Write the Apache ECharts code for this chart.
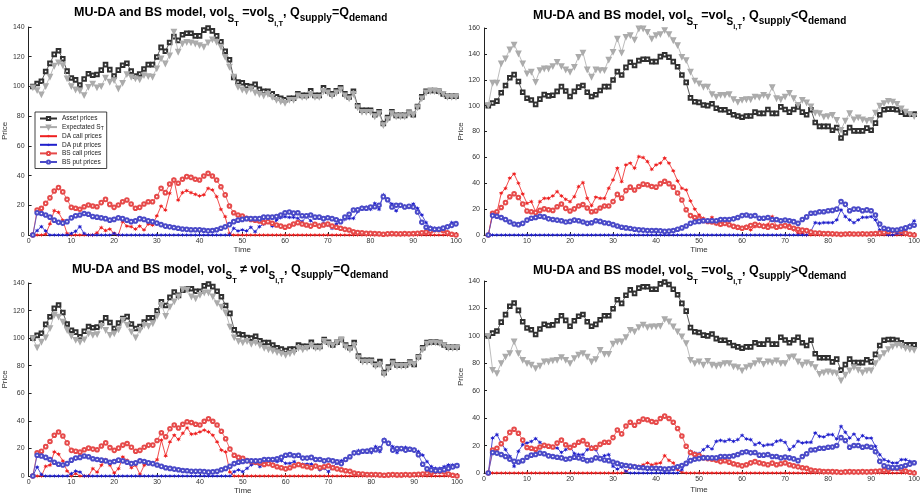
<!DOCTYPE html>
<html><head><meta charset="utf-8">
<script src="https://cdn.jsdelivr.net/npm/echarts@6/dist/echarts.min.js"></script>
<style>html,body{margin:0;padding:0;background:#fff}#c{width:923px;height:497px}</style>
</head><body><div id="c"></div>
<script>
// ---------------- data (time steps 1..100) ----------------
const time = Array.from({length:100}, (_, i) => i + 1);

const asset = [100,102,103.5,110,115.5,121.6,124,118.6,110.3,105.7,
104.4,101,105,108.5,107.5,108,111,114.7,111.3,107,
111,114.3,115.6,110.3,107,108.4,111.7,114.7,114.7,119.8,
126.3,123.7,129.6,133.5,131,134.8,135.8,135.8,134,134,
137.9,139.3,137.4,134,130,123.7,118,106,103,102.5,
100.5,100,101.4,98,96.8,96.8,95,93,92,91,
92,92,95,94,94,97,94,94,99,97,
95,97,99,95,93,96.8,87,84,84,84,
81,83,75,79,83,80.5,80.5,80.5,82.6,81,
86.5,93,96.8,97.3,97.3,96.8,95,93.4,93.4,93.4];

const bsCall = [0,16.8,18,21.3,25,29.6,31.9,29,24,18.6,
18,17.3,19,20.2,19.5,19,21.8,24,20.6,18.6,
20.2,22.4,23.6,20.9,18,18.6,20.9,22.4,22.4,25.8,
31.4,28.5,34.3,37,34.8,37.5,39.3,38.8,37.5,37,
39.7,41.5,39.7,37,32.5,27,19.5,15,13.5,12.8,
11.2,10.5,10,9.4,8.3,9,7.9,6.7,6,5.2,
6,7.4,8.3,7.4,6.7,6,7.2,6,6.7,7.4,
6,5.2,4.5,3.8,3.4,2.2,1.6,1.5,1.1,1.1,
1,0.8,0.5,0.8,1,0.8,0.8,1,0.8,1,
1.2,1.5,2,2.5,3.5,3.5,3,1.5,0.5,0];

const bsPut = [0,15,14.5,13.5,12,10,8.5,8,9,11.5,
13,13.5,14.5,14,12.5,12,11.5,11,10,10.5,
11.5,11,10,9,9.5,11,10.5,9.5,9,8,
7,6,5.5,5,4.5,4,3.8,3.5,3.5,3.5,
3.2,2.8,3,3.5,4.5,5.5,7,9,10,10.5,
11,11,11,11,12,12,12,12.5,13.5,15,
15.5,14.7,15,13,13,13.5,12,12,11,11.6,
11,10.3,9,12,14,16.8,17,18,18,18.8,
19,20,25.8,23.7,18.8,20,20,18.8,19.4,18.8,
15.5,8.5,5.2,4.4,3.9,3.9,4.6,5.5,6.5,7.5];

// panel 1 (top-left)
const expTL = [99.4,97.6,94.7,100.3,106.6,114,116.2,114.4,105.5,100.3,
98,97.2,94.2,99.8,102,99.4,100.3,106,103.2,104.3,
98.7,102.5,108.4,106.6,105.5,104.8,107.7,107,106.6,112.2,
119,115.5,121,137,123.4,129,130,129.7,129,127.9,
126.8,129.7,131.7,130.1,126.8,120,113.3,106.6,99.8,98,
97,98.5,96,95,94,95,93,91,90,89,
91,91,94,93,93,95,93,93,97,96,
94,96,98,94,92,95,86,83,83,83,
80,82,74,78,82,80,80,80,82,81,
86,92,96,97,97,96.5,95,93,93,93];
const daCallTL = [0,0,0,0.5,7.5,16.4,15.3,10,1,0,
0,0,0,0,0,1.5,5,3,4,1,
0,9,6,5.6,4,6,3.4,7.4,6.7,12.8,
19.5,16.8,28,37.5,23.5,28.5,29.8,28.5,27.4,26.3,
27,31.4,30.3,25.8,17.3,12.3,1,0,0,0,
0,0,0,0,0,0,0,0,0,0,
0,0,0,0,0,0,0,0,0,0,
0,0,0,0,0,0,0,0,0,0,
0,0,0,0,0,0,0,0,0,0,
0,0,0,0,0,0,0,0,0,0];
const daPutTL = [0,3,5.6,2.7,0,0,0,0,0,1,
2.5,5.6,1,0,0,0,0,0,0,1,
0,0,0,0,0,0,0,0,0,0,
0,0,0,0,0,0,0,0,0,0,
0,0,0,0,0,0,0,4.5,2.7,3.4,
2.7,5.2,2.2,5.6,7.4,9,6,10,11.7,12.3,
11.9,11.9,11.2,9,12.3,9.6,7.4,6.7,7.9,6.7,
4.5,7.4,9.6,10.5,11.2,11.2,15.7,18.6,18.6,17.3,
21.3,17.3,27,24,20.9,16.2,19.5,19.5,18.6,20.9,
18,13.5,8.3,5.2,4.5,4.5,3.4,5.6,8.3,8.3];

// panel 2 (top-right)
const expTR = [100.5,117.8,117.8,132.7,136.6,143.5,147.3,140.4,132.7,125,
126.3,118.5,127.5,128.8,128.8,130.6,133.9,130.6,128,126.3,
130,137.8,141,128,122.4,128,127.5,127.5,135.7,141.6,
151.9,141,153.2,154.5,151.1,159.7,159.7,157.1,151.9,154.5,
155.3,158.4,155.3,150.6,146.8,137.8,135.2,126.3,119.4,117.3,
114.7,114.8,109,107,108.4,108.4,109,105,103,104.5,
105,105,107,106.6,108.4,107,114.3,105.8,105,107,
110,105.8,100.6,104.5,102.5,99.4,94.7,94.2,91.6,92,
93,89,81.3,88.5,94.2,89.5,91,89.5,88.5,89,
94.7,100,102,103.7,103.2,101.4,98,95.5,93.7,92];
const daCallTR = [0,16.8,17.3,32.3,36.1,43.9,47.2,40,31.7,24.5,
25.8,18,25.8,28.4,28.4,30.2,33.5,30.2,27.6,25.8,
29.7,37.4,40.5,28.4,22.7,29.2,28.4,28.4,36.1,42.6,
51.6,41.3,54.2,55.5,51.6,60.6,59.9,56.8,50.8,54.2,
55.5,59.4,55.5,49.5,41.8,36.1,34.8,26.3,20,15.5,
12.9,11,13.7,8.5,7.7,8.5,7.7,6.5,5.2,5.7,
6.5,3.9,6.5,8.5,7.7,8,14.2,6.5,6.5,6,
7.7,3.9,1.3,1.3,0,0,0,0,0,0,
0,0,0,0,0,0,0,0,0,0,
0,0,0,0,0,0,0,0,0,0];
const daPutTR = [0,0,0,0,0,0,0,0,0,0,
0,0,0,0,0,0,0,0,0,0,
0,0,0,0,0,0,0,0,0,0,
0,0,0,0,0,0,0,0,0,0,
0,0,0,0,0,0,0,0,0,0,
0,0,0,0,0,0,0,0,0,0,
0,0,0,0,0,0,0,0,0,0,
0,0,0,0,0,3,9.5,9,9.5,9.5,
9.5,11.6,19.4,14.2,11.6,9.5,11.6,13.7,13.7,14.2,
11.6,3.9,0.8,0,0,1.3,1.3,3.9,7.7,11];

// panel 3 (bottom-left)
const expBL = [100,93.4,97.5,100.7,107.3,117,115.7,112,106,101.7,
98.8,97.5,99.2,103.6,102.4,103,109,106,102.4,103.6,
106.5,113.3,109.7,104.8,100.7,106,109.7,109,110.9,116.2,
124.2,116.2,123,126.7,130.3,135.6,135.2,130.3,129,131.5,
133.2,133.2,130.3,125.5,123,118.7,108.5,100.7,98,97,
98,96,97,95,93,92,91,90,89,88,
89,90,93,92,93,95,93,93,98,96,
95,97,99,94,92,95,86,83,83,83,
80,81,74,78,82,80,80,80,82,81,
86,92,96,97,97,96.5,95,93,93,93];
const daCallBL = [0,0,0,7,7.8,17.5,15.8,11,3.6,0,
1.7,0,0,0,5.3,2.9,7.8,11.9,7.8,2.2,
5.3,13.8,11.4,6,7.8,1.2,7.8,9,8.5,11.9,
26,14.6,24.8,29.6,26.5,31,35,30.3,30.8,32,
33.3,32,29.6,24.8,18.7,17.5,2.9,0,0,0,
0,0,0,0,0,0,0,0,0,0,
0,0,0,0,0,0,0,0,0,0,
0,0,0,0,0,0,0,0,0,0,
0,0,0,0,0,0,0,0,0,0,
0,0,0,0,0,0,0,0,0,0];
const daPutBL = [0,6.5,1,0,0,0,0,0,0,1.7,
3.6,2.9,0,0,0,0,0,0,0,0,
0,0,0,0,0,0,0,0,0,0,
0,0,0,0,0,0,0,0,0,0,
0,0,0,0,0,0,0,3.1,4.4,3.1,
5.6,8,9.2,6.8,9.2,11.1,11.1,10.4,11.1,9.2,
9.2,10.4,8,8.7,8.7,8.7,6.8,4.4,5.6,3.1,
6.8,9.2,11.1,11.6,14.5,16,18.4,17.7,18.9,16.9,
21.3,17.7,26.6,24.2,21.3,16.9,19.3,20.8,20,19.3,
17.7,15.2,10.4,6.8,5.6,5.6,6.8,8,8,8];

// panel 4 (bottom-right)
const expBR = [100.1,75.3,72.9,80.2,85,87.5,96,87.5,82.6,80.2,
79,76.6,78.3,81.4,81.4,82.2,82.6,84.6,82.6,80.2,
83.9,86.3,87.5,85,81.4,83.1,89.9,87,87,94.3,
96,96,99.2,104.5,103.3,106.5,108.2,106.5,107,107,
107.4,112.3,110.6,107,103.3,99.7,94.8,82.6,80.2,81.4,
79,81.9,79,78.3,79,80.2,80.2,77.8,77.3,74.9,
77.3,78.3,80.2,82.2,79.7,81.4,80.7,82.2,80.2,80.2,
84.6,85.1,81.4,79,80.7,79.7,77.3,72.4,73.4,74.1,
73.4,72.9,67.6,71.7,74.9,77.3,75.4,73.4,74.9,74.9,
80.2,84.6,87.5,90.4,92.4,93.6,92.9,91.2,90.4,89.9];
const daCallBR = [0,0,0,0,0,0,0,0,0,0,
0,0,0,0,0,0,0,0,0,0,
0,0,0,0,0,0,0,0,0,0,
0,0,1,3.6,5.3,4.9,6,7.3,6,6.8,
7.3,12.6,9.2,7.3,2.4,0.5,0,0,0,0,
0,0,0,0,0,0,0,0,0,0,
0,0,0,0,0,0,0,0,0,0,
0,0,0,0,0,0,0,0,0,0,
0,0,0,0,0,0,0,0,0,0,
0,0,0,0,0,0,0,0,0,0];
const daPutBR = [0,25.5,28,21.9,17,12.2,4.9,15.8,20.7,21.9,
23,25,22.4,19.4,19.4,19,18.2,15,17,19.4,
14.1,13.4,13.4,17,19,17,10.9,12.6,13.4,4.9,
2.9,4.4,1.2,0,0,0,0,0,0,0,
0,0,0,0,0,2.4,7.3,15.8,14.6,14.1,
17,19.4,17.5,23.1,23.8,23.1,24.3,23.1,24.3,27.5,
24.8,24.3,20.7,21.9,19.9,20.7,20.7,23.1,23.8,22.4,
17,19.4,23.1,21.9,22.4,22.4,29.2,26.7,26.3,28,
28,24.8,34,29.7,25.5,28.4,24.3,27.2,25.5,25.5,
19.4,13.4,9.7,8.5,7.3,7.3,9.7,9.7,8.5,7.8];

const seriesNames = ['Asset prices','Expectated S_T','DA call prices','DA put prices','BS call prices','BS put prices'];
const yMax = [140,160,140,140];
const titleRel = ['=','=','≠','='];
const titleQ = ['=','<','=','>'];

// ---------------- layout / style ----------------
const grids = [
  {left:27, top:27, width:429, height:208},
  {left:484, top:28, width:433, height:207},
  {left:28, top:283, width:429, height:193},
  {left:484, top:281, width:433, height:192}
];
const titlePos = [{left:74, top:6}, {left:533, top:9}, {left:72, top:263}, {left:533, top:264}];
const timeGap = [4, 4, 10, 13];
const panelData = [
  [asset, expTL, daCallTL, daPutTL, bsCall, bsPut],
  [asset, expTR, daCallTR, daPutTR, bsCall, bsPut],
  [asset, expBL, daCallBL, daPutBL, bsCall, bsPut],
  [asset, expBR, daCallBR, daPutBR, bsCall, bsPut]
];
const STAR = 'path://M0,-10L2.2,-3.8L8.7,-5L4.4,0L8.7,5L2.2,3.8L0,10L-2.2,3.8L-8.7,5L-4.4,0L-8.7,-5L-2.2,-3.8Z';
const styles = [
  {color:'#303030', symbol:'emptyRect', size:3.6, rot:0},
  {color:'#ababab', symbol:'emptyTriangle', size:3.6, rot:180},
  {color:'#ee2020', symbol:STAR, size:4.6, rot:0},
  {color:'#2020cc', symbol:STAR, size:4.6, rot:0},
  {color:'#e64a4a', symbol:'emptyCircle', size:3.6, rot:0},
  {color:'#4a4ac8', symbol:'emptyCircle', size:3.6, rot:0}
];
const FONT = 'Liberation Sans, Arial, sans-serif';
const tok = (fs, dy) => ({fontSize:fs, fontWeight:'bold', fontFamily:FONT, color:'#000', verticalAlign:'top', padding:[dy,0,0,0]});
const titleRich = {m:tok(12.5,0), s:tok(10,8), ss:tok(7.5,14), q:tok(10,7)};

const titles = grids.map((g, i) => ({
  text: '{m|MU-DA and BS model, vol}{s|S}{ss|T}{m| ' + titleRel[i] + (titleRel[i]==='≠' ? ' ' : '') + 'vol}{s|S}{ss|i,T}{m|, Q}{q|supply}{m|' + titleQ[i] + 'Q}{q|demand}',
  left: titlePos[i].left, top: titlePos[i].top, padding: 0,
  textStyle: {rich: titleRich}
}));

const xAxes = grids.map((g, i) => ({
  type:'value', gridIndex:i, min:0, max:100, interval:10,
  axisLine:{show:true, onZero:false, lineStyle:{color:'#222', width:1}},
  axisTick:{show:true, inside:true, length:3, lineStyle:{color:'#222'}},
  axisLabel:{fontSize:7, color:'#333', margin:3, fontFamily:FONT},
  splitLine:{show:false},
  name:'Time', nameLocation:'middle', nameGap:timeGap[i],
  nameTextStyle:{fontSize:8, color:'#333', fontFamily:FONT}
}));
const yAxes = grids.map((g, i) => ({
  type:'value', gridIndex:i, min:0, max:yMax[i], interval:20,
  axisLine:{show:true, onZero:false, lineStyle:{color:'#222', width:1}},
  axisTick:{show:true, inside:true, length:3, lineStyle:{color:'#222'}},
  axisLabel:{fontSize:7, color:'#333', margin:4, fontFamily:FONT},
  splitLine:{show:false},
  name:'Price', nameLocation:'middle', nameGap:11,
  nameTextStyle:{fontSize:8, color:'#333', fontFamily:FONT}
}));

const series = [];
panelData.forEach((arrs, gi) => {
  arrs.forEach((arr, k) => {
    const st = styles[k];
    series.push({
      type:'line', name:seriesNames[k], xAxisIndex:gi, yAxisIndex:gi,
      data: arr.map((v, i) => [time[i], v]),
      symbol: st.symbol, symbolSize: st.size, symbolRotate: st.rot, showAllSymbol:true,
      lineStyle:{color:st.color, width:0.8},
      itemStyle:{color:st.color, borderColor:st.color, borderWidth: (st.symbol===STAR?0:0.7)},
      emphasis:{disabled:true}, silent:true, animation:false, z: 2 + k
    });
  });
});

const chart = echarts.init(document.getElementById('c'), null, {renderer:'canvas'});
chart.setOption({
  backgroundColor:'#fff',
  animation:false,
  title: titles,
  grid: grids.map(g => Object.assign({containLabel:false}, g)),
  xAxis: xAxes,
  yAxis: yAxes,
  legend: {
    data: seriesNames, left:35, top:112, orient:'vertical',
    itemWidth:17, itemHeight:4, itemGap:1.6, padding:[3,3,3,4],
    backgroundColor:'#fff', borderColor:'#111', borderWidth:0.8, borderRadius:0,
    selectedMode:false,
    textStyle:{fontSize:6.5, color:'#222', fontFamily:FONT, rich:{n:{fontSize:6.5, color:'#222', fontFamily:FONT}, sub:{fontSize:5, color:'#222', fontFamily:FONT, verticalAlign:'bottom', padding:[3,0,0,0]}}},
    formatter: n => n === 'Expectated S_T' ? '{n|Expectated S}{sub|T}' : n
  },
  series
});
</script></body></html>
